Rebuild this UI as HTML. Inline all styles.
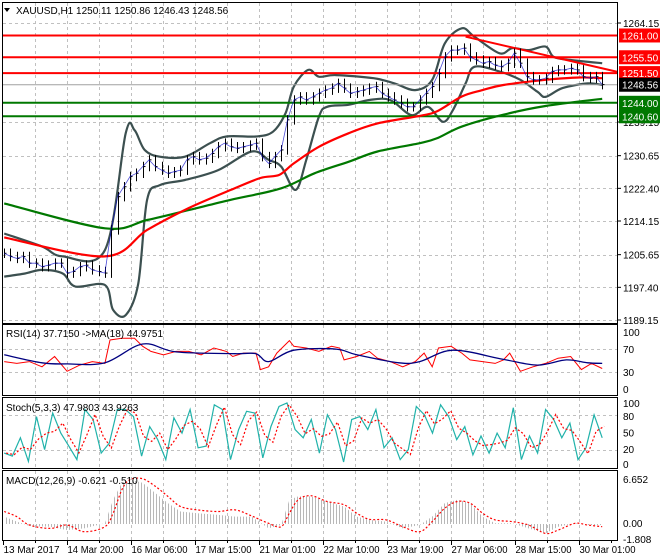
<!DOCTYPE html>
<html><head><meta charset="utf-8"><style>
html,body{margin:0;padding:0;background:#fff;}
svg{display:block;font-family:"Liberation Sans",sans-serif;font-size:10px;}
</style></head><body>
<svg id="c" width="660" height="560" viewBox="0 0 660 560" xmlns="http://www.w3.org/2000/svg">
<defs>
<pattern id="hatch" width="3" height="4" patternUnits="userSpaceOnUse"><rect x="0" y="0" width="1" height="4" fill="#b8b8b8"/></pattern>
</defs>
</svg>
<script>
// ---- data ----
const closes=[1206.0,1205.2,1204.7,1205.2,1203.5,1203.5,1202.6,1203.0,1203.5,1203.5,1201.0,1201.4,1202.6,1203.0,1201.8,1201.4,1201.0,
1211.9,1220.3,1222.8,1225.4,1226.2,1227.9,1229.6,1227.9,1227.0,1226.2,1226.6,1227.0,1229.6,1230.4,1229.6,1230.0,1231.2,1232.9,1233.8,1232.9,
1232.5,1232.9,1233.3,1233.8,1230.4,1228.7,1230.4,1232.1,1239.7,1244.7,1245.5,1244.7,1245.5,1246.4,1247.2,1247.7,1248.9,1247.7,1246.4,1246.8,
1247.2,1247.7,1248.1,1246.4,1245.5,1244.7,1243.9,1243.0,1243.0,1244.7,1246.4,1248.1,1251.4,1255.6,1257.3,1257.3,1257.8,1255.6,1254.8,1254.0,
1254.4,1253.5,1253.1,1254.0,1256.5,1254.0,1250.6,1249.8,1249.8,1250.2,1251.9,1252.3,1252.3,1252.7,1252.3,1250.6,1250.2,1250.6,1248.6];
const redMaBars=[0,16,22.7,29.3,36,40.7,43.7,46,50,54.7,59.3,66,68.7,72.7,76,79.3,86,91.3,95];
const redMaVals=[1210.0,1205.2,1211.9,1217.4,1222.0,1225.0,1225.8,1228.7,1232.9,1236.3,1238.8,1240.7,1241.8,1245.6,1247.2,1248.5,1249.8,1250.4,1250.2];
const greenMaBars=[0,16,22.7,29.3,36,44,49.3,54.7,59.3,66,68.7,72.7,79.3,86,95];
const greenMaVals=[1218.6,1212.3,1214.4,1216.9,1219.5,1222.4,1226.2,1229.1,1231.7,1233.8,1235.0,1238.0,1241.0,1243.2,1245.0];
const upperBars=[0,6,9.3,16,19.3,20.7,22.3,24.7,28.7,32.7,35.3,40,42.7,44.7,46,48.3,50,52.7,58.7,62,65.3,68,70,72.7,74.7,78.7,80.7,83.3,86,87.3,90,95];
const upperVals=[1211.0,1207.7,1205.2,1206.8,1236.3,1237.1,1232.1,1230.4,1230.4,1233.8,1235.5,1235.5,1236.7,1241.4,1248.1,1252.3,1250.6,1251.0,1250.2,1248.9,1247.2,1249.8,1259.0,1262.8,1260.7,1256.5,1257.8,1257.3,1258.2,1255.6,1254.8,1254.0];
const lowerBars=[0,3.3,6,9.3,11.3,16,17.3,19.3,21.3,22.7,24.7,28.7,34,39.3,42,44,46.3,48,50,51.3,54.7,58,61.3,64.7,67.3,69.7,71.3,73.3,74.7,78.7,82,84.7,86,88.7,92.7,95];
const lowerVals=[1200.1,1200.9,1201.8,1200.9,1197.6,1198.0,1191.7,1190.4,1198.4,1219.5,1223.2,1224.5,1227.0,1231.7,1229.6,1227.9,1222.0,1229.6,1240.5,1243.0,1243.5,1244.7,1244.7,1240.9,1243.0,1239.2,1242.2,1248.9,1253.1,1251.9,1249.8,1246.8,1245.5,1247.7,1248.9,1248.5];
const redLevels=[1261.00,1255.50,1251.50];
const greenLevels=[1244.00,1240.60];
const trendBars=[73.3,95];
const trendVals=[1260.7,1252.7];
const lastPrice=1248.56;
const priceTicks=[1264.15,1239.15,1230.65,1222.40,1214.15,1205.65,1197.40,1189.15];
const dateLabels=["13 Mar 2017","14 Mar 20:00","16 Mar 06:00","17 Mar 15:00","21 Mar 01:00","22 Mar 10:00","23 Mar 19:00","27 Mar 06:00","28 Mar 15:00","30 Mar 01:00"];
const rsiBars=[0,2,4,6,8,10,12,14,16,16.8,18.7,20.7,22,23.3,25.3,27.3,29.3,31.3,33.3,35.3,36.3,38,40,40.7,42,43.3,45.3,46,48,50,52,53.3,54,56,58,59.3,61.3,63.3,65.3,66.7,68,69,71,72.7,74,76,78,79.3,80.3,82,84,86,88,90,91.7,93.3,95];
const rsiVals=[48,45,48,39,57,31,42,48,45,86,89,89,75,66,60,66,66,60,72,66,57,63,63,34,39,63,85,75,72,66,75,72,51,57,66,54,48,39,48,63,39,72,75,63,51,48,45,51,63,31,39,45,54,57,34,45,36];
const rsiMaBars=[0,6,10,16,22,27.3,36.7,40,42,46,52.7,56,62.7,66,71.3,79.3,84.7,89.3,92.7,95];
const rsiMaVals=[60,46,44,46,79,65,62,62,48,68,70,60,46,48,68,52,42,51,46,45];
const stochMain=[15,10,41,1,77,21,83,49,27,4,89,72,15,32,89,89,77,10,60,38,4,75,49,89,24,27,97,89,4,55,86,83,7,60,94,100,55,41,72,15,80,55,0,72,77,55,89,24,41,4,21,94,80,49,97,77,38,60,12,44,15,49,24,92,4,44,15,89,72,41,66,4,24,80,41];
const macdBars=[0,2,4,7.3,10,12.7,16,17.3,18.7,20,22,24,26,28,30.7,34,36.7,39.3,42,44,45.3,46.7,48.7,51.3,54,56,58,60.7,63.3,66,68,70,72,74,76,78,80.7,83.3,86,88,90.7,92.7,95];
const macdHist=[1.09,0.35,-0.3,-0.4,-0.9,-0.65,0.1,3.58,6.07,6.57,6.07,4.58,3.08,1.84,1.59,1.34,1.09,1.09,-0.65,-0.15,3.58,4.08,4.08,3.33,2.59,1.09,0.6,0.35,-0.65,-0.15,1.09,3.08,3.58,3.08,1.09,0.1,0.1,-0.65,-1.39,-0.4,0.1,-0.15,-0.15];
const macdSignal=[1.84,1.09,-0.15,-0.65,-0.15,-1.14,-0.4,1.59,5.07,6.57,6.67,5.57,4.08,2.59,2.09,1.84,2.09,1.19,0.1,-0.4,1.59,3.58,4.18,3.33,2.84,1.59,0.7,0.6,-0.4,-1.14,0.35,2.34,3.33,3.08,1.59,0.6,0.35,-0.15,-1.39,-0.9,0.1,-0.15,-0.4];

// ---- axes ----
const svg=document.getElementById('c');
const NS="http://www.w3.org/2000/svg";
const nBars=closes.length;
const xB=b=>4.2+b*598/(nBars-1);
const yP=p=>23+(1264.15-p)*3.96;
const yR=v=>389-v*0.57;
const yS=v=>462-v*0.59;
const yM=v=>524-v*6.77;
function el(tag,attrs,parent){const e=document.createElementNS(NS,tag);for(const k in attrs)e.setAttribute(k,attrs[k]);(parent||svg).appendChild(e);return e;}
function smooth(pts){let d="M"+pts[0][0].toFixed(1)+","+pts[0][1].toFixed(1);
 for(let i=0;i<pts.length-1;i++){const p0=pts[Math.max(0,i-1)],p1=pts[i],p2=pts[i+1],p3=pts[Math.min(pts.length-1,i+2)];
 const c1=[p1[0]+(p2[0]-p0[0])/6,p1[1]+(p2[1]-p0[1])/6],c2=[p2[0]-(p3[0]-p1[0])/6,p2[1]-(p3[1]-p1[1])/6];
 d+="C"+c1[0].toFixed(1)+","+c1[1].toFixed(1)+" "+c2[0].toFixed(1)+","+c2[1].toFixed(1)+" "+p2[0].toFixed(1)+","+p2[1].toFixed(1);}return d;}
function poly(pts){return pts.map((p,i)=>(i?"L":"M")+p[0].toFixed(1)+","+p[1].toFixed(1)).join("");}
function clip(id,y0,y1){const cp=el('clipPath',{id:id},svg.querySelector('defs'));el('rect',{x:2,y:y0,width:616,height:y1-y0},cp);}
clip('cmain',2,323);clip('crsi',324,395);clip('cst',397,468);clip('cmacd',470,540);

// panels
const panels=[[2,323,'main-panel'],[324,395,'rsi-panel'],[397,468,'stoch-panel'],[470,540,'macd-panel']];
for(const p of panels){const r=el('rect',{x:2.5,y:p[0]+.5,width:615,height:p[1]-p[0],fill:'#fff',stroke:'#000','stroke-width':1});

}
// vertical grid
const gridG=el('g',{stroke:'#c0c0c0','stroke-dasharray':'3,3','stroke-width':1});


for(let k=1;k<19;k++){const x=3.5+32*k;if(x>617)break;for(const p of panels)el('line',{x1:x,x2:x,y1:p[0]+1,y2:p[1]},gridG);}
for(const t of priceTicks){const y=Math.round(yP(t))+.5;if(y>4&&y<322)el('line',{x1:3,x2:617,y1:y,y2:y},gridG);}
for(const v of [70,30])el('line',{x1:3,x2:617,y1:Math.round(yR(v))+.5,y2:Math.round(yR(v))+.5},gridG);
for(const v of [80,20])el('line',{x1:3,x2:617,y1:Math.round(yS(v))+.5,y2:Math.round(yS(v))+.5},gridG);

// main overlays
const mg=el('g',{'clip-path':'url(#cmain)'});
function curve(bars,vals,stroke,w,name,yf,dash){const pts=bars.map((b,i)=>[xB(b),yf(vals[i])]);
 const e=el('path',{d:smooth(pts),fill:'none',stroke:stroke,'stroke-width':w},mg);if(dash)e.setAttribute('stroke-dasharray',dash);
 
 return e;}
curve(upperBars,upperVals,'#3c5050',2.2,'bollinger-upper',yP);
curve(lowerBars,lowerVals,'#3c5050',2.2,'bollinger-lower',yP);
redLevels.forEach(v=>{const y=yP(v);const l=el('line',{x1:3,x2:617,y1:y,y2:y,stroke:'#f00','stroke-width':2},mg);

});
greenLevels.forEach(v=>{const y=yP(v);const l=el('line',{x1:3,x2:617,y1:y,y2:y,stroke:'#007800','stroke-width':2},mg);

});
const bid=el('line',{x1:3,x2:617,y1:yP(lastPrice),y2:yP(lastPrice),stroke:'#a0a0a0','stroke-width':1},mg);


const tl=el('line',{x1:xB(trendBars[0]),y1:yP(trendVals[0]),x2:617,y2:yP(trendVals[1]+(trendVals[1]-trendVals[0])*(617-xB(95))/(xB(95)-xB(73.3))),stroke:'#f00','stroke-width':2},mg);


curve(greenMaBars,greenMaVals,'#007800',2.2,'ma-slow-green',yP);
curve(redMaBars,redMaVals,'#f00',2.2,'ma-red',yP);
const cg=el('g',{stroke:'#000','stroke-width':1},mg);


for(let i=0;i<nBars;i++){const prev=i?closes[i-1]:closes[i];const hi=Math.max(prev,closes[i])+1.2,lo=Math.min(prev,closes[i])-1.2;
 const x=Math.round(xB(i))+.5;const b=el('line',{x1:x,x2:x,y1:yP(hi),y2:yP(lo)},cg);
 
 
 el('line',{x1:x,x2:x+2,y1:yP(closes[i]),y2:yP(closes[i])},cg);}
const cl=el('path',{d:poly(closes.map((c,i)=>[xB(i),yP(c)])),fill:'none',stroke:'#0000c8','stroke-width':.8,opacity:.7},mg);



// price axis labels
const ax=el('g',{fill:'#000'});
priceTicks.forEach(t=>{const y=yP(t);el('line',{x1:617,x2:621,y1:y,y2:y,stroke:'#000'},ax);
 const tx=el('text',{x:623,y:y+4},ax);tx.textContent=t.toFixed(2);
 
 });
function tag(v,bg,name){const y=yP(v);const g=el('g',{});
 
 
 el('rect',{x:619,y:y-7,width:41,height:14,fill:bg},g);const t=el('text',{x:622,y:y+4,fill:'#fff'},g);t.textContent=v.toFixed(2);}
redLevels.forEach(v=>tag(v,'#f00','resistance-price-tag'));
greenLevels.forEach(v=>tag(v,'#007800','support-price-tag'));
tag(lastPrice,'#000','last-price-tag');

// title
const tt=el('text',{x:16,y:14});tt.textContent="XAUUSD,H1  1250.11 1250.86 1246.43 1248.56";


const tri=el('path',{d:'M4,8 L10,8 L7,12 Z',fill:'#000'});



// RSI
const rg=el('g',{'clip-path':'url(#crsi)'});
const rp=el('path',{d:poly(rsiBars.map((b,i)=>[xB(b),yR(rsiVals[i])])),fill:'none',stroke:'#f00','stroke-width':1},rg);


const rm=el('path',{d:smooth(rsiMaBars.map((b,i)=>[xB(b),yR(rsiMaVals[i])])),fill:'none',stroke:'#000080','stroke-width':1.3},rg);


const rt=el('text',{x:6,y:337});rt.textContent="RSI(14) 37.7150  ->MA(18) 44.9751";


[100,70,30,0].forEach(v=>{const t=el('text',{x:623,y:yR(v)+4});t.textContent=v;

});

// Stoch
const sg=el('g',{'clip-path':'url(#cst)'});
const sx=i=>4.2+i*598/(stochMain.length-1);
const sig=stochMain.map((v,i)=>{const a=stochMain.slice(Math.max(0,i-1),i+1);return a.reduce((s,x)=>s+x,0)/a.length;});
const s1=el('path',{d:poly(stochMain.map((v,i)=>[sx(i),yS(v)])),fill:'none',stroke:'#20b2aa','stroke-width':1.2},sg);


const s2=el('path',{d:poly(sig.map((v,i)=>[sx(i)+2,yS(v)])),fill:'none',stroke:'#f00','stroke-width':1.2,'stroke-dasharray':'2,2'},sg);


const st=el('text',{x:6,y:411});st.textContent="Stoch(5,3,3) 47.9803 43.9263";


[[100,0],[80,1],[50,0],[20,-1],[0,2]].forEach(a=>{const t=el('text',{x:623,y:yS(a[0])+4+a[1]});t.textContent=a[0];

});

// MACD
const mcg=el('g',{'clip-path':'url(#cmacd)'});
const hp=[[xB(macdBars[0]),yM(0)]].concat(macdBars.map((b,i)=>[xB(b),yM(macdHist[i])])).concat([[xB(macdBars[macdBars.length-1]),yM(0)]]);
const hist=el('path',{d:poly(hp)+"Z",fill:'url(#hatch)',stroke:'none'},mcg);


const ms=el('path',{d:smooth(macdBars.map((b,i)=>[xB(b),yM(macdSignal[i])])),fill:'none',stroke:'#f00','stroke-width':1.2,'stroke-dasharray':'2,2'},mcg);


const mt=el('text',{x:6,y:484});mt.textContent="MACD(12,26,9) -0.621 -0.510";


[[6.652,"6.652",0],[0,"0.00",-1],[-1.808,"-1.808",3]].forEach(a=>{const t=el('text',{x:623,y:yM(a[0])+4+a[2]});t.textContent=a[1];

});

// time axis
dateLabels.forEach((d,k)=>{const x=3.5+64*k;el('line',{x1:x,x2:x,y1:540,y2:545,stroke:'#000'});
 const t=el('text',{x:x,y:553,textLength:56,lengthAdjust:'spacingAndGlyphs'});t.textContent=d;
 
 });
for(let k=0;k<19;k++){const x=35.5+64*k;if(x<617)el('line',{x1:x,x2:x,y1:540,y2:543,stroke:'#000'});}
</script>
</body></html>
